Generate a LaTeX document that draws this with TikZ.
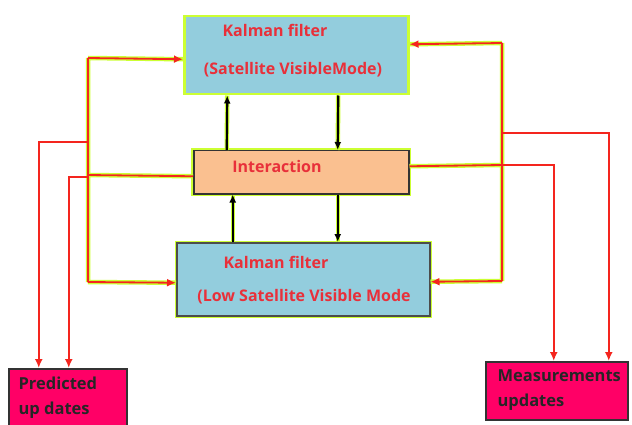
\documentclass[tikz,border=0pt]{standalone}
\usepackage{fontspec}
\setmainfont{Open Sans}
\usetikzlibrary{arrows.meta}
\definecolor{kfblue}{HTML}{93CDDD}
\definecolor{peach}{HTML}{FAC090}
\definecolor{pinkbox}{HTML}{FF0066}
\definecolor{limeedge}{HTML}{CCFF33}
\definecolor{redline}{HTML}{F4251E}
\definecolor{redtext}{HTML}{E8303A}

\begin{document}
\begin{tikzpicture}[x=1pt,y=-1pt,
  box/.style={rectangle,inner sep=0pt,anchor=north west,line width=1.5pt},
  kftext/.style={text=redtext,font=\fontsize{16}{18}\selectfont\bfseries},
  outtext/.style={text=black!85,font=\fontsize{16.5}{25}\selectfont\bfseries,align=left,anchor=west},
  halo/.style={limeedge,line width=4.5pt},
  feed/.style={redline,line width=1.8pt},
  tip/.style={-{Latex[length=9pt,width=8pt]}},
  tap/.style={redline,line width=1.8pt,tip},
  flow/.style={black,line width=2.2pt,-{Latex[length=8pt,width=7pt]}}]

    \clip (0,0) rectangle (632,425);
    \fill[white] (0,0) rectangle (632,425);

    % the three blocks
    \node[box,draw=limeedge,line width=2.5pt,fill=kfblue,minimum width=224,minimum height=78] (kfvis) at (183,15) {};
    \node[box,preaction={draw=limeedge,line width=5pt},draw=black!80,fill=peach,minimum width=215,minimum height=43] (interaction) at (193,150) {};
    \node[box,preaction={draw=limeedge,line width=4pt},draw=black!70,fill=kfblue,minimum width=253,minimum height=73] (kflow) at (176,242) {};

    \node[kftext] (kfvisa) at (275,30) {Kalman filter};
    \node[kftext] (kfvisb) at (293,70) {(Satellite VisibleMode)};
    \node[kftext] (inttext) at (277,166) {Interaction};
    \node[kftext] (kflowa) at (276,262) {Kalman filter};
    \node[kftext] (kflowb) at (304,297) {(Low Satellite Visible Mode};

    % outputs
    \node[box,draw=black!80,fill=pinkbox,minimum width=118,minimum height=72] (pred) at (8,368) {};
    \node[box,draw=black!80,fill=pinkbox,minimum width=142,minimum height=58] (meas) at (485,361) {};
    \node[outtext] (predtext) at (15,398) {Predicted\\up dates};
    \node[outtext] (meastext) at (494,390) {Measurements\\updates};

    \coordinate (lj) at (88,175);
    \coordinate (ltop) at (88,58);
    \coordinate (lbot) at (88,282);
    \coordinate (rj) at (502,165);
    \coordinate (rtop) at (502,43);
    \coordinate (rbot) at (502,281);

    % feedback loops
    \draw[halo] ([yshift=-4pt]interaction.west) -- (lj) (ltop) -- (lbot)
      (ltop) -- ([yshift=-4pt]kfvis.west) (lbot) -- ([yshift=-3.5pt]kflow.west);
    \draw[halo] ([yshift=6pt]interaction.east) -- (rj) (rtop) -- (rbot)
      (rtop) -- ([yshift=11pt]kfvis.east) (rbot) -- ([yshift=-2.5pt]kflow.east);
    \draw[feed] ([yshift=-4pt]interaction.west) -- (lj) (ltop) -- (lbot);
    \draw[feed,tip] (ltop) -- ([yshift=-4pt]kfvis.west);
    \draw[feed,tip] (lbot) -- ([yshift=-3.5pt]kflow.west);
    \draw[feed] ([yshift=6pt]interaction.east) -- (rj) (rtop) -- (rbot);
    \draw[feed,tip] (rtop) -- ([yshift=11pt]kfvis.east);
    \draw[feed,tip] (rbot) -- ([yshift=-2.5pt]kflow.east);

    % taps to the outputs
    \draw[tap] (88,142) -| ([xshift=-29pt]pred.north);
    \draw[tap] (88,177) -| ([xshift=1pt]pred.north);
    \draw[tap] (rj) -| ([xshift=-3pt]meas.north);
    \draw[tap] (502,133) -| ([xshift=52pt]meas.north);

    % interaction arrows
    \draw[halo] ([xshift=-74.5pt]interaction.north) -- ([xshift=-69pt]kfvis.south);
    \draw[halo] ([xshift=42pt]kfvis.south) -- ([xshift=36.5pt]interaction.north);
    \draw[halo] ([xshift=-70.5pt]kflow.north) -- ([xshift=-68.5pt]interaction.south);
    \draw[halo] ([xshift=36.5pt]interaction.south) -- ([xshift=34.5pt]kflow.north);
    \draw[flow] ([xshift=-74.5pt]interaction.north) -- ([xshift=-69pt]kfvis.south);
    \draw[flow] ([xshift=42pt]kfvis.south) -- ([xshift=36.5pt]interaction.north);
    \draw[flow] ([xshift=-70.5pt]kflow.north) -- ([xshift=-68.5pt]interaction.south);
    \draw[flow] ([xshift=36.5pt]interaction.south) -- ([xshift=34.5pt]kflow.north);

  \end{tikzpicture}
\end{document}
